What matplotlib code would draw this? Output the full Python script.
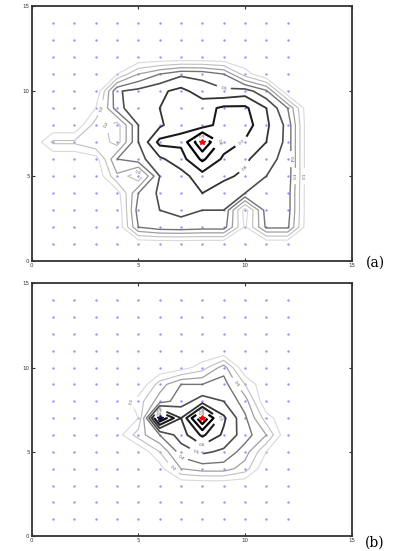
import numpy as np
import matplotlib
matplotlib.use("Agg")
import matplotlib.pyplot as plt

# grille des valeurs (x = 0..13, y = 0..12), lignes du haut vers le bas
xg = np.arange(0, 14)
yg = np.arange(0, 13)

champ_a = [
    # x: 0   1    2    3    4    5    6    7    8    9    10   11   12   13
    [0,   0,   0,   0,   0,   0,   0,   0,   0,   0,   0,   0,   0,   0],   # y=12
    [0,   0,   0,   0,  .10, .30, .40, .48, .47, .40, .15,  0,   0,   0],   # y=11
    [0,   0,   0,   0,  .49, .53, .58, .63, .55, .52, .55, .42,  0,   0],   # y=10
    [0,   0,   0,  .10, .46, .58, .60, .62, .66, .72, .72, .60, .40,  0],   # y=9
    [0,   0,   0,  .25, .15, .50, .58, .68, .65, .75, .75, .62, .47,  0],   # y=8
    [0,  .22, .22, .30, .15, .50, .73, .72, 1.0, .75, .69, .60, .47,  0],   # y=7
    [0,   0,   0,  .05, .40, .46, .58, .66, .82, .68, .62, .53, .47,  0],   # y=6
    [0,   0,   0,   0,  .28, .12, .50, .56, .66, .62, .58, .50, .47,  0],   # y=5
    [0,   0,   0,   0,  .05, .40, .52, .55, .60, .55, .50, .48, .45,  0],   # y=4
    [0,   0,   0,   0,   0,  .45, .50, .52, .50, .50, .05, .45, .45,  0],   # y=3
    [0,   0,   0,   0,   0,  .40, .46, .47, .45, .45, .08, .42, .42,  0],   # y=2
    [0,   0,   0,   0,   0,   0,   0,   0,   0,   0,   0,   0,   0,   0],   # y=1
    [0,   0,   0,   0,   0,   0,   0,   0,   0,   0,   0,   0,   0,   0],   # y=0
]

champ_b = [
    # x: 0   1    2    3    4    5    6    7    8    9    10   11   12   13
    [0,   0,   0,   0,   0,   0,   0,   0,   0,   0,   0,   0,   0,   0],   # y=12
    [0,   0,   0,   0,   0,   0,   0,   0,   0,   0,   0,   0,   0,   0],   # y=11
    [0,   0,   0,   0,   0,   0,   0,  .05, .15, .35,  0,   0,   0,   0],   # y=10
    [0,   0,   0,   0,   0,   0,  .25, .40, .40, .45, .20,  0,   0,   0],   # y=9
    [0,   0,   0,   0,   0,  .15, .35, .45, .55, .50, .35,  0,   0,   0],   # y=8
    [0,   0,   0,   0,   0,  .10, .90, .60, 1.0, .62, .42, .15,  0,   0],   # y=7
    [0,   0,   0,   0,  .05, .25, .40, .55, .72, .58, .45, .30,  0,   0],   # y=6
    [0,   0,   0,   0,   0,   0,  .20, .45, .52, .48, .35, .10,  0,   0],   # y=5
    [0,   0,   0,   0,   0,   0,  .05, .30, .35, .35, .25,  0,   0,   0],   # y=4
    [0,   0,   0,   0,   0,   0,   0,   0,   0,   0,   0,   0,   0,   0],   # y=3
    [0,   0,   0,   0,   0,   0,   0,   0,   0,   0,   0,   0,   0,   0],   # y=2
    [0,   0,   0,   0,   0,   0,   0,   0,   0,   0,   0,   0,   0,   0],   # y=1
    [0,   0,   0,   0,   0,   0,   0,   0,   0,   0,   0,   0,   0,   0],   # y=0
]

niveaux = [0.1, 0.2, 0.3, 0.4, 0.5, 0.6, 0.7, 0.8, 0.9]

# points de mesure (bleus)
capteurs_x = np.arange(1, 13)
capteurs_y = np.arange(1, 15)

source_a = (8, 7)
source_b = (8, 7)
second_b = (6, 7)

gris = ['0.85', '0.75', '0.62', '0.45', '0.30', '0.20', '0.10', '0.0', '0.0']
epaisseurs = [0.8, 0.8, 0.9, 1.0, 1.2, 1.3, 1.5, 1.6, 1.6]

fig = plt.figure(figsize=(3.96, 5.51), dpi=100)
ax_a = fig.add_axes([0.080, 0.526, 0.808, 0.463])
ax_b = fig.add_axes([0.080, 0.027, 0.808, 0.459])

def dessine(ax, champ, marques):
    Z = np.array(champ[::-1], dtype=float)
    px, py = np.meshgrid(capteurs_x, capteurs_y)
    ax.plot(px.ravel(), py.ravel(), '.', color='#9090ff', markersize=1.4, zorder=1)
    cs = ax.contour(xg, yg, Z, levels=niveaux, colors=gris, linewidths=epaisseurs, zorder=2)
    ax.clabel(cs, inline=True, fontsize=3, fmt='%.1f', colors='#555555')
    for (mx, my, mc) in marques:
        ax.plot(mx, my, '*', color=mc, markersize=4, zorder=3)
    ax.set_xlim(0, 15)
    ax.set_ylim(0, 15)
    ax.set_xticks([0, 5, 10, 15])
    ax.set_yticks([0, 5, 10, 15])
    ax.tick_params(direction='in', length=2.5, width=0.8, labelsize=4, colors='#333333',
                   top=True, right=True, pad=1.5)
    for s in ax.spines.values():
        s.set_linewidth(1.3)
        s.set_color('#333333')

dessine(ax_a, champ_a, [(source_a[0], source_a[1], 'red')])
dessine(ax_b, champ_b, [(second_b[0], second_b[1], '#101040'), (source_b[0], source_b[1], 'red')])

fig.text(0.947, 0.523, '(a)', family='DejaVu Serif', fontsize=10, ha='center', va='center')
fig.text(0.947, 0.016, '(b)', family='DejaVu Serif', fontsize=10, ha='center', va='center')

fig.savefig('out.png', dpi=100)
